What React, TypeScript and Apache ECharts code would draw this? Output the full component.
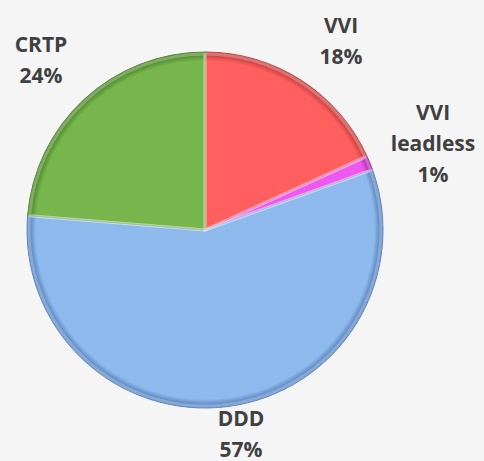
import React, { useEffect, useRef } from "react";
import * as echarts from "echarts";

const categories = ["VVI", "VVI leadless", "DDD", "CRTP"];
const values = [18.2, 1.3, 56.8, 23.7];
const baseColors = ["#ff5f5f", "#ee58ee", "#8db9ec", "#77b54d"];
const edgeColors = ["#c84040", "#b030b0", "#5a86c0", "#4f8a2c"];
const labelPos: [number, number][] = [
  [341, 40],
  [433, 143],
  [241, 433],
  [41, 59],
];

export default function App() {
  const ref = useRef<HTMLDivElement>(null);
  useEffect(() => {
    if (!ref.current) return;
    const chart = echarts.init(ref.current, undefined, { renderer: "svg" });
    const cx = 205;
    const cy = 230;
    const R = 178;
    const data = categories.map((name, i) => ({
      name,
      value: values[i],
      itemStyle: {
        color: {
          type: "radial",
          x: cx,
          y: cy,
          r: R,
          global: true,
          colorStops: [
            { offset: 0, color: baseColors[i] },
            { offset: 0.95, color: baseColors[i] },
            { offset: 0.985, color: edgeColors[i] },
            { offset: 1, color: edgeColors[i] },
          ],
        },
        borderColor: edgeColors[i],
        borderWidth: 1,
      },
    }));
    chart.setOption({
      animation: false,
      backgroundColor: "#f5f5f5",
      series: [
        {
          type: "pie",
          center: [cx, cy],
          radius: [0, R],
          startAngle: 90,
          clockwise: true,
          percentPrecision: 0,
          data,
          labelLine: { show: false },
          label: {
            show: true,
            position: "outside",
            overflow: "none",
            alignTo: "none",
            formatter: (p: any) =>
              p.name.replace(" ", "\n") + "\n" + Math.round(p.percent) + "%",
            fontFamily: "Open Sans",
            fontWeight: "bold",
            fontSize: 21,
            lineHeight: 31,
            color: "#404040",
            align: "center",
          },
          labelLayout: (params: any) => ({
            x: labelPos[params.dataIndex][0],
            y: labelPos[params.dataIndex][1],
            align: "center",
            verticalAlign: "middle",
          }),
          emphasis: { disabled: true },
        },
        {
          type: "pie",
          center: [cx, cy],
          radius: [0, R - 2],
          startAngle: 90,
          clockwise: true,
          silent: true,
          data: categories.map((name, i) => ({
            name,
            value: values[i],
          })),
          itemStyle: {
            color: "rgba(0,0,0,0)",
            borderColor: "rgba(255,255,255,0.28)",
            borderWidth: 3,
          },
          label: { show: false },
          labelLine: { show: false },
          emphasis: { disabled: true },
        },
      ],
    });
    return () => chart.dispose();
  }, []);
  return (
    <div
      ref={ref}
      style={{ position: "fixed", left: 0, top: 0, width: 484, height: 461 }}
    />
  );
}
